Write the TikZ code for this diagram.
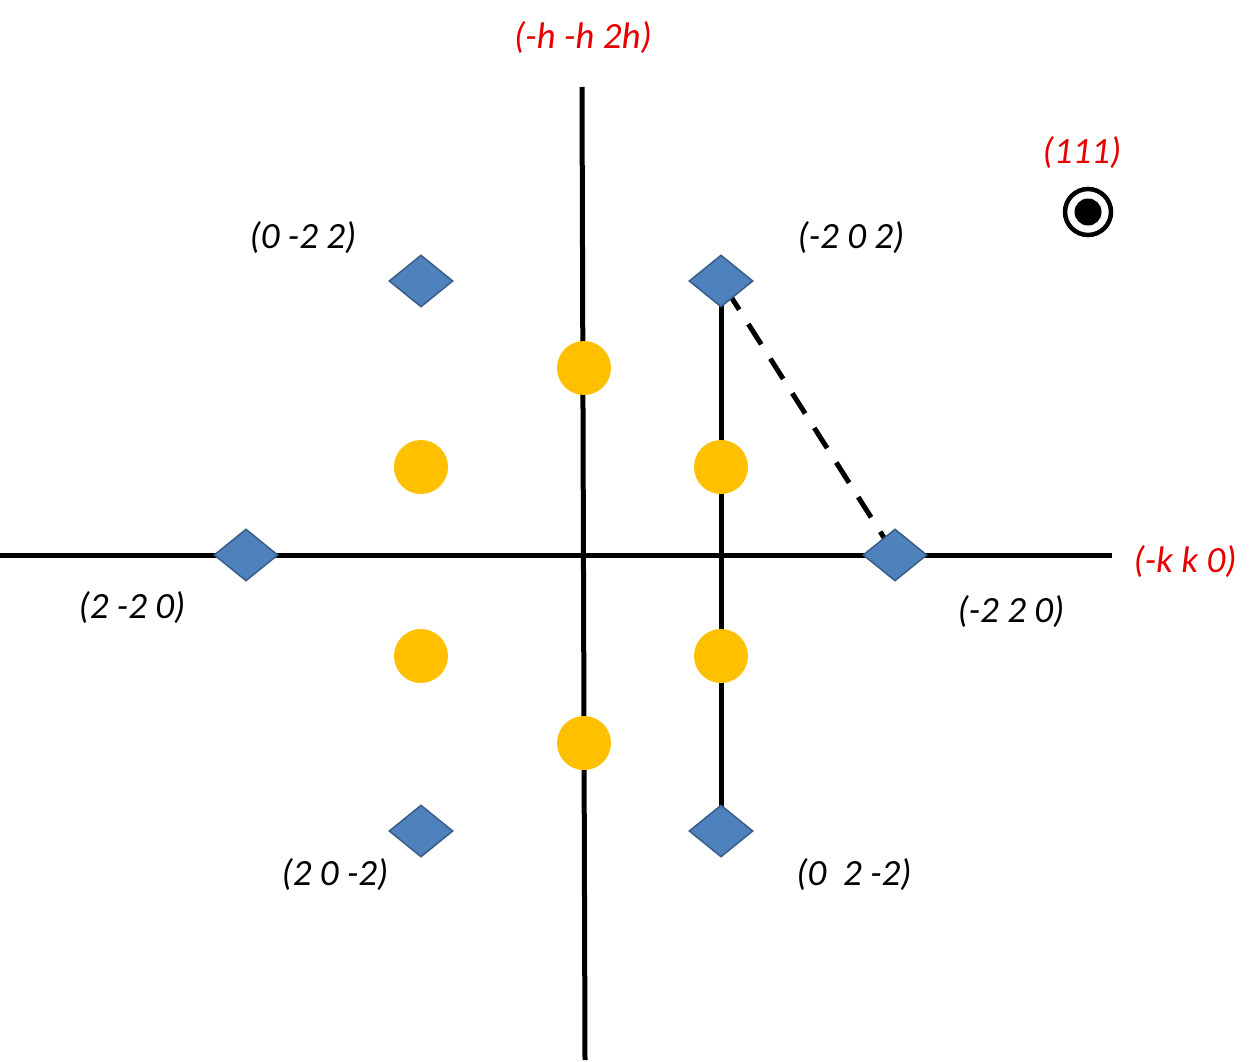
\documentclass[tikz,border=0pt]{standalone}
\usepackage{fontspec}
\setmainfont{Carlito}
\usetikzlibrary{shapes.geometric,backgrounds}
\definecolor{dblue}{RGB}{79,129,189}
\definecolor{dbord}{RGB}{56,93,138}
\definecolor{dyel}{RGB}{255,192,0}
\definecolor{lred}{RGB}{230,0,0}
\tikzset{
  dia/.style={diamond, fill=dblue, draw=dbord, line width=1.5pt, minimum width=64pt, minimum height=52pt, inner sep=0pt},
  dot/.style={circle, fill=dyel, minimum size=54pt, inner sep=0pt},
  axis/.style={line width=5pt, black},
  lbl/.style={font=\fontsize{37}{44}\selectfont\itshape, inner sep=0pt},
  rlbl/.style={lbl, text=lred},
}
\begin{document}
\begin{tikzpicture}[x=1pt,y=-1pt]
\useasboundingbox (0,0) rectangle (1260,1062);
% axes
\coordinate (hl) at (0,555);
\coordinate (hr) at (1112,555);
\coordinate (vt) at (582,87);
\coordinate (vb) at (585,1060);
\draw[axis] (hl) -- (hr);
\draw[axis] (vt) -- (vb);
% diamonds
\node[dia] (d1) at (421,281) {};
\node[dia] (d2) at (721,281) {};
\node[dia] (d3) at (246,555) {};
\node[dia] (d4) at (895,555) {};
\node[dia] (d5) at (421,831) {};
\node[dia] (d6) at (721,831) {};
\begin{pgfonlayer}{background}
\draw[axis] (d2.center) -- (d6.center);
\draw[line width=5pt, dash pattern=on 24pt off 17pt, shorten <=10pt, shorten >=16pt] (d2.center) -- (d4.center);
\end{pgfonlayer}
% dots
\node[dot] (c1) at (584,368) {};
\node[dot] (c2) at (421,467) {};
\node[dot] (c3) at (721,467) {};
\node[dot] (c4) at (421,656) {};
\node[dot] (c5) at (721,656) {};
\node[dot] (c6) at (584,743) {};
% 111 symbol
\node[circle, draw=black, line width=4.5pt, minimum size=46pt, inner sep=0pt] (s1) at (1088,212) {};
\node[circle, fill=black, minimum size=27pt, inner sep=0pt] (s2) at (1088,212) {};
% labels
\node[lbl] (l1) at (303,238) {(0 -2 2)};
\node[lbl] (l2) at (851,238) {(-2 0 2)};
\node[lbl] (l3) at (132,608) {(2 -2 0)};
\node[lbl] (l4) at (1011,612) {(-2 2 0)};
\node[lbl] (l5) at (335,875) {(2 0 -2)};
\node[lbl] (l6) at (854,875) {(0\ \ 2 -2)};
\node[rlbl] (r1) at (583,38) {(-h -h 2h)};
\node[rlbl] (r2) at (1185,562) {(-k k 0)};
\node[rlbl] (r3) at (1082,153) {(111)};
\end{tikzpicture}
\end{document}
